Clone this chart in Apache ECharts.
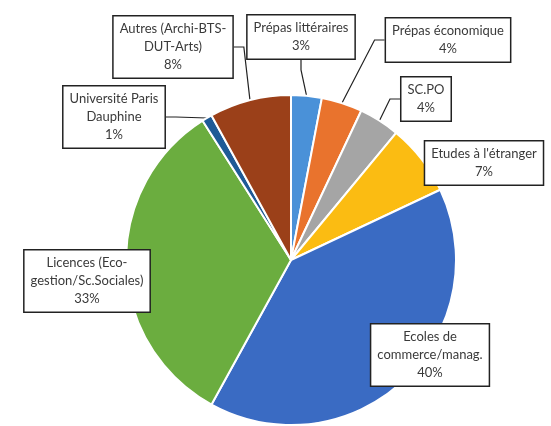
<!DOCTYPE html>
<html>
<head>
<meta charset="utf-8">
<script src="https://cdn.jsdelivr.net/npm/echarts@6/dist/echarts.min.js"></script>
<style>
html, body { margin: 0; padding: 0; background: #fff; }
#main { width: 551px; height: 426px; }
</style>
</head>
<body>
<div id="main"></div>
<script>
var categories = [
    'Prépas littéraires',
    'Prépas économique',
    'SC.PO',
    "Etudes à l'étranger",
    'Ecoles de\ncommerce/manag.',
    'Licences (Eco-\ngestion/Sc.Sociales)',
    'Université Paris\nDauphine',
    'Autres (Archi-BTS-\nDUT-Arts)'
];
var values = [3, 4, 4, 7, 40, 33, 1, 8];
var colors = ['#4a91d8', '#e9732d', '#a5a5a5', '#fbbc12', '#3a6bc3', '#6bad3f', '#1e5a96', '#9b4019'];
// where each callout box sits (centre of box)
var labelPos = [[301, 37], [448, 40], [426, 99], [484, 163], [430, 355], [87, 281], [114, 117], [173, 47]];
var noLine = [4, 5];

var myChart = echarts.init(document.getElementById('main'));

var data = [];
for (var i = 0; i < categories.length; i++) {
    data.push({
        name: categories[i],
        value: values[i],
        itemStyle: {color: colors[i]},
        labelLine: {show: noLine.indexOf(i) < 0}
    });
}

var option = {
    animation: false,
    series: [
        {
            type: 'pie',
            radius: 165,
            center: [291, 260],
            startAngle: 90,
            avoidLabelOverlap: false,
            itemStyle: {
                borderColor: '#fff',
                borderWidth: 2
            },
            label: {
                formatter: '{b}\n{c}%',
                fontFamily: 'Lato',
                fontSize: 13,
                color: '#3a3a3a',
                lineHeight: 18,
                align: 'center',
                backgroundColor: '#fff',
                borderColor: '#222',
                borderWidth: 1.5,
                padding: [4, 6, 3, 6]
            },
            labelLine: {
                length: 10,
                length2: 10,
                lineStyle: {color: '#222', width: 1.2}
            },
            labelLayout: function (params) {
                var p = labelPos[params.dataIndex];
                return {
                    x: p[0],
                    y: p[1],
                    align: 'center',
                    verticalAlign: 'middle'
                };
            },
            data: data
        }
    ]
};
myChart.setOption(option);
</script>
</body>
</html>
